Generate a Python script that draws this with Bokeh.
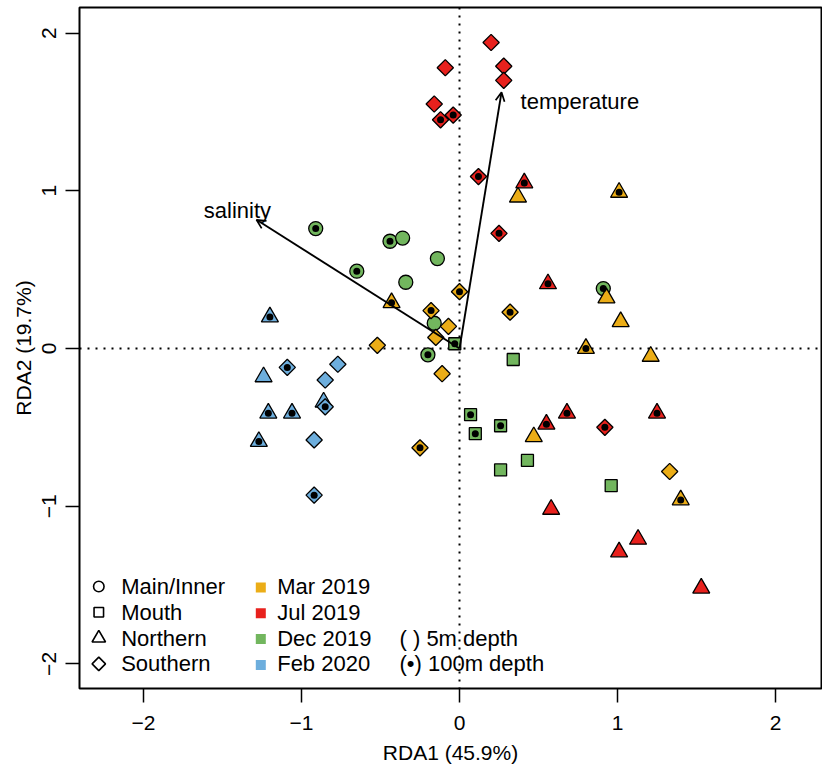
import numpy as np
from bokeh.plotting import figure
from bokeh.models import (ColumnDataSource, Range1d, FixedTicker, Span, Arrow,
                          OpenHead, Label, CDSView, GroupFilter)
from bokeh.transform import factor_cmap
from bokeh.embed import file_html
from bokeh.resources import INLINE

# ---------------- data ----------------
rda1 = [0.20, 0.28, 0.28, -0.09, -0.16, -0.12, -0.04, 0.12, 0.25, 0.92,
        0.41, 0.56, 0.55, 0.68, 1.25, 0.58, 1.01, 1.13, 1.53,
        0.37, 1.01, 0.93, 1.02, 0.80, 1.21, 0.47, 1.40, -0.43,
        0.00, 0.32, -0.18, -0.07, -0.15, -0.52, -0.11, -0.25, 1.33,
        -0.91, -0.44, -0.36, -0.65, -0.14, -0.34, -0.16, -0.20, 0.91,
        -0.03, 0.34, 0.07, 0.10, 0.26, 0.26, 0.43, 0.96,
        -1.20, -1.24, -1.21, -1.06, -1.27, -0.86,
        -1.09, -0.77, -0.85, -0.85, -0.92, -0.92]
rda2 = [1.94, 1.79, 1.70, 1.78, 1.55, 1.45, 1.48, 1.09, 0.73, -0.50,
        1.05, 0.41, -0.48, -0.41, -0.41, -1.02, -1.29, -1.21, -1.52,
        0.96, 0.99, 0.32, 0.17, 0.00, -0.05, -0.56, -0.96, 0.29,
        0.36, 0.23, 0.24, 0.14, 0.07, 0.02, -0.16, -0.63, -0.78,
        0.76, 0.68, 0.70, 0.49, 0.57, 0.42, 0.16, -0.04, 0.38,
        0.03, -0.07, -0.42, -0.54, -0.49, -0.77, -0.71, -0.87,
        0.20, -0.18, -0.41, -0.41, -0.59, -0.34,
        -0.12, -0.10, -0.20, -0.37, -0.58, -0.93]
site = (["Southern"] * 10 + ["Northern"] * 9 +
        ["Northern"] * 9 + ["Southern"] * 9 +
        ["Main/Inner"] * 9 + ["Mouth"] * 8 +
        ["Northern"] * 6 + ["Southern"] * 6)
month = (["Jul 2019"] * 19 + ["Mar 2019"] * 18 + ["Dec 2019"] * 17 + ["Feb 2020"] * 12)
depth = ["5m", "5m", "5m", "5m", "5m", "100m", "100m", "100m", "100m", "100m",
         "100m", "100m", "100m", "100m", "100m", "5m", "5m", "5m", "5m",
         "5m", "100m", "5m", "5m", "100m", "5m", "5m", "100m", "100m",
         "100m", "100m", "100m", "5m", "5m", "5m", "5m", "100m", "5m",
         "100m", "100m", "5m", "100m", "5m", "5m", "5m", "100m", "100m",
         "100m", "5m", "100m", "100m", "100m", "5m", "5m", "5m",
         "100m", "5m", "100m", "100m", "100m", "5m",
         "100m", "5m", "5m", "100m", "5m", "100m"]

sites = ["Main/Inner", "Mouth", "Northern", "Southern"]
months = ["Mar 2019", "Jul 2019", "Dec 2019", "Feb 2020"]
month_colors = ["#EBAD17", "#E8211D", "#72B65E", "#6DAEDD"]
depth_labels = ["( ) 5m depth", "(\u2022) 100m depth"]

env_names = ["salinity", "temperature"]
env_rda1 = [-1.285, 0.266]
env_rda2 = [0.816, 1.625]

x_ticks = [-2, -1, 0, 1, 2]
y_ticks = [-2, -1, 0, 1, 2]
tick_text = {t: (("\u2212" + str(abs(t))) if t < 0 else str(t)) for t in x_ticks}

x_title = "RDA1 (45.9%)"
y_title = "RDA2 (19.7%)"

# ---------------- styles / layout ----------------
FONT = "Liberation Sans"
FS = "21px"
FS_LEG = "22px"
W, H = 822, 766
BL, BR, BT, BB = 79, 1, 7, 78
FRAME_W, FRAME_H = W - BL - BR, H - BT - BB

marker_style = {
    "Main/Inner": dict(marker="circle", size=14, angle=0.0, leg_size=10.5),
    "Mouth": dict(marker="square", size=12, angle=0.0, leg_size=9.5),
    "Northern": dict(marker="triangle", size=17, angle=0.0, leg_size=13.5),
    "Southern": dict(marker="square", size=11.5, angle=np.pi / 4, leg_size=9.5),
}

src = ColumnDataSource(dict(x=rda1, y=rda2, site=site, month=month, depth=depth))

p = figure(width=W, height=H, output_backend="svg", toolbar_location=None,
           x_range=Range1d(-2.405, 2.291), y_range=Range1d(-2.156, 2.162),
           min_border_left=BL, min_border_right=BR, min_border_top=BT,
           min_border_bottom=BB)
p.extra_x_ranges = {"px": Range1d(0, FRAME_W)}
p.extra_y_ranges = {"px": Range1d(0, FRAME_H)}
p.grid.visible = False
p.outline_line_color = "black"
p.outline_line_width = 2
p.background_fill_color = "white"
p.border_fill_color = "white"

for ax, ticks, title in [(p.xaxis[0], x_ticks, x_title), (p.yaxis[0], y_ticks, y_title)]:
    ax.ticker = FixedTicker(ticks=ticks)
    ax.major_label_overrides = {t: tick_text[t] for t in ticks}
    ax.axis_label = title
    ax.axis_line_color = None
    ax.major_tick_out = 14
    ax.major_tick_in = 0
    ax.major_tick_line_width = 1.5
    ax.minor_tick_line_color = None
    ax.major_label_text_font = FONT
    ax.major_label_text_font_size = FS
    ax.major_label_text_color = "black"
    ax.axis_label_text_font = FONT
    ax.axis_label_text_font_size = FS
    ax.axis_label_text_font_style = "normal"
    ax.axis_label_text_color = "black"

p.xaxis.major_label_standoff = 13
p.xaxis.axis_label_standoff = 8
p.yaxis.major_label_orientation = "vertical"
p.yaxis.major_label_standoff = 9
p.yaxis.axis_label_standoff = 5

# zero lines
for dim in ("width", "height"):
    p.add_layout(Span(location=0, dimension=dim, line_color="black", line_width=2,
                      line_dash="2 6", level="underlay"))

cmap = factor_cmap("month", palette=month_colors, factors=months)

for s in sites:
    st = marker_style[s]
    view = CDSView(filter=GroupFilter(column_name="site", group=s))
    p.scatter("x", "y", source=src, view=view, marker=st["marker"], size=st["size"],
              angle=st["angle"], fill_color=cmap, line_color="black", line_width=1.3)

deep = CDSView(filter=GroupFilter(column_name="depth", group="100m"))
p.scatter("x", "y", source=src, view=deep, marker="circle", size=7,
          fill_color="black", line_color=None)

# environmental arrows
label_style = [dict(x_offset=-19, y_offset=9, text_align="center"),
               dict(x_offset=19, y_offset=-9, text_align="left")]
for name, ex, ey, ls in zip(env_names, env_rda1, env_rda2, label_style):
    p.add_layout(Arrow(x_start=0, y_start=0, x_end=ex, y_end=ey, line_width=1.9,
                       line_color="black",
                       end=OpenHead(size=9, line_width=1.7, line_color="black")))
    p.add_layout(Label(x=ex, y=ey, text=name, text_baseline="middle",
                       text_font=FONT, text_font_size=FS_LEG, text_color="black", **ls))

# ---------------- legend (frame pixel coordinates) ----------------
ROW0, PITCH = 102, 25.8
SHAPE_X, SHAPE_TX = 19.3, 41.7
COLOR_X, COLOR_TX = 181.3, 197.7
DEPTH_TX = 320
text_kw = dict(x_units="screen", y_units="screen", text_baseline="middle",
               text_font=FONT, text_font_size=FS_LEG, text_color="black")

for i, s in enumerate(sites):
    st = marker_style[s]
    ry = ROW0 - i * PITCH
    p.scatter(x=[SHAPE_X], y=[ry], x_range_name="px", y_range_name="px",
              marker=st["marker"], size=st["leg_size"], angle=st["angle"],
              fill_color=None, line_color="black", line_width=1.6)
    p.add_layout(Label(x=SHAPE_TX, y=ry, text=s, **text_kw))

for i, (m, c) in enumerate(zip(months, month_colors)):
    ry = ROW0 - i * PITCH
    p.scatter(x=[COLOR_X], y=[ry - 1], x_range_name="px", y_range_name="px",
              marker="square", size=10, fill_color=c, line_color=None)
    p.add_layout(Label(x=COLOR_TX, y=ry, text=m, **text_kw))

for i, txt in enumerate(depth_labels):
    p.add_layout(Label(x=DEPTH_TX, y=ROW0 - (i + 2) * PITCH, text=txt, **text_kw))

open("out.html", "w").write(file_html(p, INLINE))
